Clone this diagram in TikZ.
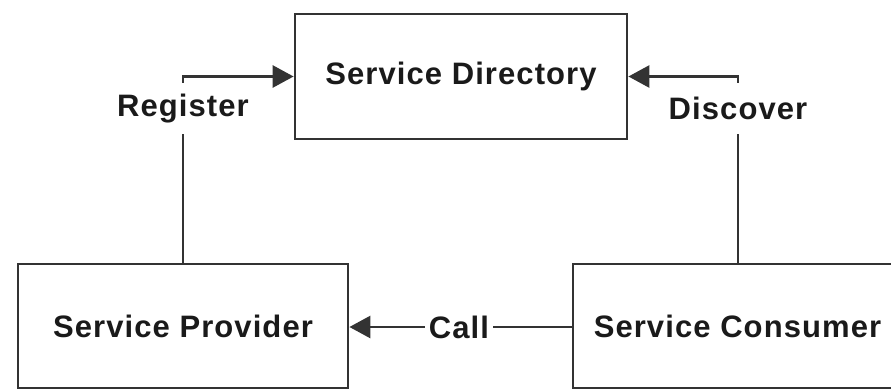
\documentclass[tikz,border=0pt]{standalone}
\usepackage{fontspec}
\setmainfont[LetterSpace=3.5]{Liberation Sans}
\usetikzlibrary{arrows.meta}
\definecolor{linegray}{HTML}{333333}
\definecolor{textdark}{HTML}{1A1A1A}
\tikzset{
  box/.style={draw=linegray, line width=2.8pt, fill=white, inner sep=0pt,
    font=\fontsize{31}{36}\selectfont\bfseries, text=textdark},
  lbl/.style={fill=white, inner sep=0pt, font=\fontsize{31}{36}\selectfont\bfseries, text=textdark},
  conn/.style={draw=linegray, line width=2.8pt},
  tip/.style={-{Triangle[length=21pt,width=22pt]}}
}
\begin{document}
\begin{tikzpicture}[x=1pt,y=-1pt]
\useasboundingbox (0,0) rectangle (891,388);
\clip (0,0) rectangle (891,388);
\node[box, minimum width=332pt, minimum height=125pt] (dir) at (461,76.5) {Service Directory};
\node[box, minimum width=330pt, minimum height=124pt] (prov) at (183,326) {Service Provider};
\node[box, minimum width=329pt, minimum height=124pt] (cons) at (737.5,326) {Service Consumer};
\node[lbl, minimum height=51pt] (reg) at (183,108.5) {Register};
\node[lbl, minimum height=51pt] (disc) at (738,108.5) {Discover};
\node[lbl, minimum width=68pt, minimum height=30pt] (call) at (459,327) {Call};
\draw[conn] (prov.north) -- (reg.south);
\draw[conn, tip] (reg.north) |- (dir.west);
\draw[conn] (cons.north -| disc.south) -- (disc.south);
\draw[conn, tip] (disc.north) |- (dir.east);
\draw[conn] (cons.west |- call.east) -- (call.east);
\draw[conn, tip] (call.west) -- (prov.east |- call.west);
\end{tikzpicture}
\end{document}
